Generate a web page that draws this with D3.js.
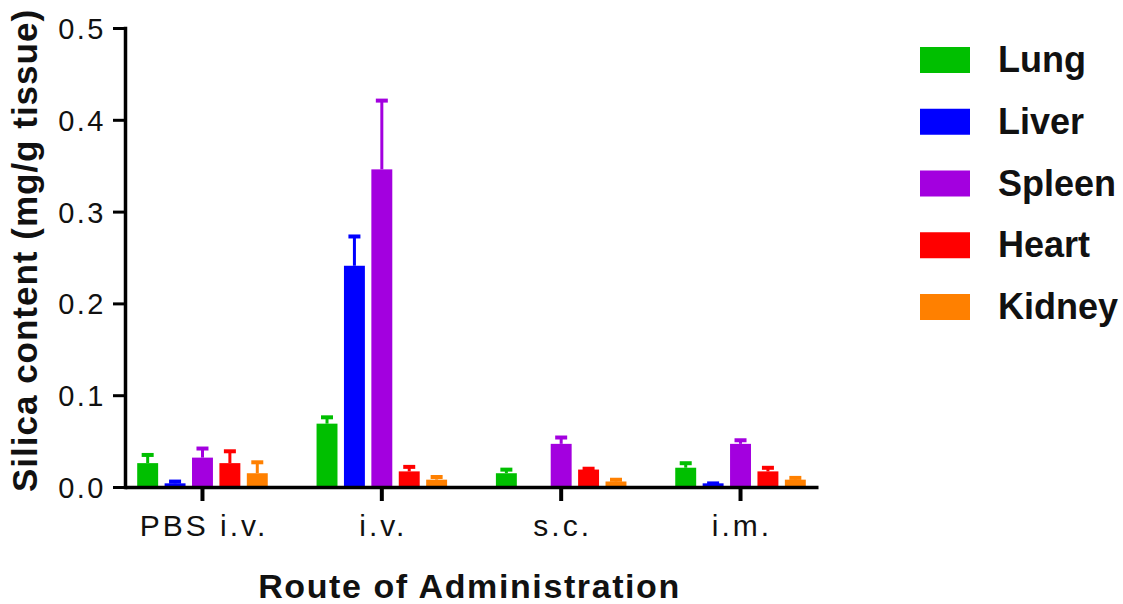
<!DOCTYPE html>
<html>
<head>
<meta charset="utf-8">
<script src="https://cdn.jsdelivr.net/npm/d3@7"></script>
<style>
  body { margin: 0; background: #fff; }
  svg { display: block; }
</style>
</head>
<body>
<svg id="chart"></svg>
<script>
const routes = ["PBS i.v.", "i.v.", "s.c.", "i.m."];
const organs = ["Lung", "Liver", "Spleen", "Heart", "Kidney"];
const colors = ["#00bf00", "#0000ff", "#a300df", "#ff0000", "#ff8000"];

// mean and SD per organ, in the order of routes
const lungMean = [0.026, 0.069, 0.015, 0.021];
const lungSD = [0.010, 0.008, 0.005, 0.006];
const liverMean = [0.004, 0.241, 0, 0.004];
const liverSD = [0.003, 0.033, 0, 0.001];
const spleenMean = [0.032, 0.346, 0.047, 0.047];
const spleenSD = [0.011, 0.076, 0.008, 0.005];
const heartMean = [0.026, 0.017, 0.019, 0.017];
const heartSD = [0.014, 0.006, 0.002, 0.005];
const kidneyMean = [0.015, 0.008, 0.006, 0.008];
const kidneySD = [0.013, 0.004, 0.003, 0.003];

const yTicks = [0, 0.1, 0.2, 0.3, 0.4, 0.5];

const means = [lungMean, liverMean, spleenMean, heartMean, kidneyMean];
const sds = [lungSD, liverSD, spleenSD, heartSD, kidneySD];

const data = [];
routes.forEach((r, i) => {
  organs.forEach((o, j) => {
    data.push({ route: r, organ: o, mean: means[j][i], sd: sds[j][i] });
  });
});

const width = 1123, height = 604;
const margin = { top: 28, right: 305, bottom: 117, left: 125 };

const svg = d3.select("#chart")
  .attr("width", width)
  .attr("height", height);

const x0 = d3.scaleBand()
  .domain(routes)
  .range([margin.left, width - margin.right])
  .paddingInner(0.236)
  .paddingOuter(0.05);

const x1 = d3.scaleBand()
  .domain(organs)
  .range([0, x0.bandwidth()])
  .paddingInner(0.236)
  .paddingOuter(0.118);

const y = d3.scaleLinear()
  .domain([0, 0.5])
  .range([height - margin.bottom, margin.top]);

const color = d3.scaleOrdinal().domain(organs).range(colors);

// bars
svg.append("g")
  .selectAll("rect")
  .data(data.filter(d => d.mean > 0))
  .join("rect")
  .attr("x", d => x0(d.route) + x1(d.organ))
  .attr("y", d => y(d.mean))
  .attr("width", x1.bandwidth())
  .attr("height", d => y(0) - y(d.mean))
  .attr("fill", d => color(d.organ));

// error bars (upper only)
const err = svg.append("g")
  .selectAll("g")
  .data(data.filter(d => d.sd > 0))
  .join("g")
  .attr("stroke", d => color(d.organ));

const cx = d => x0(d.route) + x1(d.organ) + x1.bandwidth() / 2;

err.append("line")
  .attr("x1", cx)
  .attr("x2", cx)
  .attr("y1", d => y(d.mean))
  .attr("y2", d => y(d.mean + d.sd))
  .attr("stroke-width", 3);

err.append("line")
  .attr("x1", d => cx(d) - 6)
  .attr("x2", d => cx(d) + 6)
  .attr("y1", d => y(d.mean + d.sd) + 1)
  .attr("y2", d => y(d.mean + d.sd) + 1)
  .attr("stroke-width", 4);

// y axis
const yAxis = svg.append("g")
  .attr("transform", `translate(${margin.left},0)`)
  .call(d3.axisLeft(y).tickValues(yTicks).tickFormat(d3.format(".1f")).tickSize(12).tickSizeOuter(0));

yAxis.select(".domain").attr("stroke-width", 3.5).attr("stroke-linecap", "square");
yAxis.selectAll(".tick line").attr("stroke-width", 3);
yAxis.selectAll(".tick text")
  .attr("x", -19)
  .attr("dy", "0.36em")
  .attr("font-family", "'Liberation Sans', Arial, sans-serif")
  .attr("font-size", 29)
  .attr("letter-spacing", 2.5)
  .attr("fill", "#111");

// x axis
const xAxis = svg.append("g")
  .attr("transform", `translate(0,${height - margin.bottom})`)
  .call(d3.axisBottom(x0).tickSize(14).tickSizeOuter(0));

xAxis.select(".domain").attr("stroke-width", 3.5);
xAxis.selectAll(".tick line").attr("stroke-width", 4);
xAxis.selectAll(".tick text")
  .attr("y", 49)
  .attr("dy", 0)
  .attr("dx", 1.5)
  .attr("font-family", "'Liberation Sans', Arial, sans-serif")
  .attr("font-size", 30)
  .attr("letter-spacing", 3)
  .attr("fill", "#111");

// axis titles
svg.append("text")
  .attr("transform", "rotate(-90)")
  .attr("x", -(margin.top + (height - margin.bottom)) / 2 + 7)
  .attr("y", 37)
  .attr("text-anchor", "middle")
  .attr("font-family", "'Liberation Sans', Arial, sans-serif")
  .attr("font-weight", "bold")
  .attr("font-size", 35)
  .attr("letter-spacing", 1)
  .attr("fill", "#111")
  .text("Silica content (mg/g tissue)");

svg.append("text")
  .attr("x", (margin.left + width - margin.right) / 2 - 2)
  .attr("y", 598)
  .attr("text-anchor", "middle")
  .attr("font-family", "'Liberation Sans', Arial, sans-serif")
  .attr("font-weight", "bold")
  .attr("font-size", 34)
  .attr("letter-spacing", 1.6)
  .attr("fill", "#111")
  .text("Route of Administration");

// legend
const legendY = d3.scalePoint().domain(organs).range([60, 307]);

const legend = svg.append("g")
  .selectAll("g")
  .data(organs)
  .join("g")
  .attr("transform", d => `translate(920,${legendY(d)})`);

legend.append("rect")
  .attr("x", 0)
  .attr("y", -13)
  .attr("width", 50)
  .attr("height", 26)
  .attr("fill", d => color(d));

legend.append("text")
  .attr("x", 78)
  .attr("y", 12)
  .attr("font-family", "'Liberation Sans', Arial, sans-serif")
  .attr("font-weight", "bold")
  .attr("font-size", 36)
  .attr("fill", "#111")
  .text(d => d);
</script>
</body>
</html>
